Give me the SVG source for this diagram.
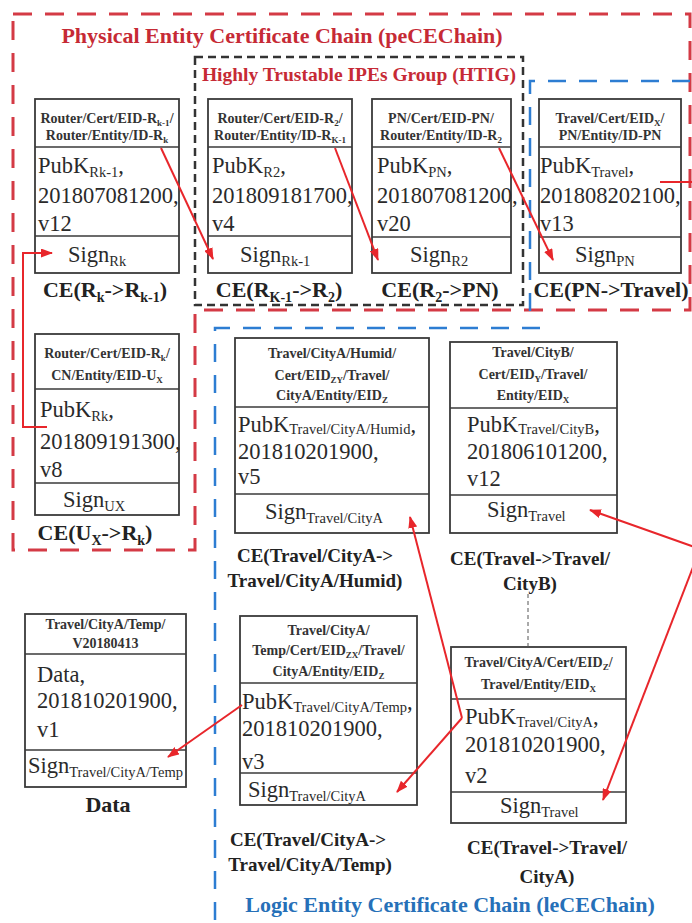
<svg xmlns="http://www.w3.org/2000/svg" width="692" height="923" viewBox="0 0 692 923">
<defs>
<style>
.box{fill:#fff;stroke:#3a3a3a;stroke-width:1.8}
.dv{stroke:#3a3a3a;stroke-width:1.5}
.h{font-family:"Liberation Serif",serif;font-weight:bold;font-size:14px;fill:#333;text-anchor:middle}
.hs{font-size:9px}
.b{font-family:"Liberation Serif",serif;font-size:22.5px;fill:#2a2a2a}
.bs{font-size:14.5px}
.lt{font-family:"Liberation Serif",serif;font-weight:bold;font-size:22px;fill:#222;text-anchor:middle}
.ls{font-size:14px}
.ll{font-family:"Liberation Serif",serif;font-weight:bold;font-size:19px;fill:#222;text-anchor:middle}
.arr{stroke:#e8262b;stroke-width:2;fill:none}
.arrm{marker-end:url(#ah)}
.title{font-family:"Liberation Serif",serif;font-weight:bold}
</style>
<marker id="ah" viewBox="0 0 12 9" refX="11" refY="4.5" markerWidth="12" markerHeight="9" markerUnits="userSpaceOnUse" orient="auto">
<path d="M0,0 L12,4.5 L0,9 z" fill="#e8262b"/>
</marker>
</defs>
<rect width="692" height="923" fill="#fff"/>

<g id="groups">
<path d="M13,14 H690 V310 H195 V550 H13 Z" fill="none" stroke="#d43a45" stroke-width="3" stroke-dasharray="19 13"/>
<rect x="195" y="57" width="328" height="248" fill="none" stroke="#333" stroke-width="2.5" stroke-dasharray="8 5"/>
<path d="M690,81 H530 V318" fill="none" stroke="#2d7dd2" stroke-width="2.5" stroke-dasharray="18 13"/>
<path d="M540,328 H215 V923" fill="none" stroke="#2d7dd2" stroke-width="2.5" stroke-dasharray="18 13"/>
<text class="title" x="282" y="43" font-size="22" fill="#c62a35" text-anchor="middle">Physical Entity Certificate Chain (peCEChain)</text>
<text class="title" x="359" y="81" font-size="19.5" fill="#c62a35" text-anchor="middle">Highly Trustable IPEs Group (HTIG)</text>
<text class="title" x="450" y="912" font-size="22" fill="#2670b8" text-anchor="middle">Logic Entity Certificate Chain (leCEChain)</text>
</g>

<g id="n1">
<rect class="box" x="35" y="99" width="144" height="174"/>
<line class="dv" x1="35" y1="147" x2="179" y2="147"/>
<line class="dv" x1="35" y1="236" x2="179" y2="236"/>
<text class="h" x="107" y="123">Router/Cert/EID-R<tspan class="hs" dy="3">k-1</tspan><tspan dy="-3">/</tspan></text>
<text class="h" x="107" y="140">Router/Entity/ID-R<tspan class="hs" dy="3">k</tspan></text>
<text class="b" x="38" y="173">PubK<tspan class="bs" dy="4">Rk-1</tspan><tspan dy="-4">,</tspan></text>
<text class="b" x="38" y="203">201807081200,</text>
<text class="b" x="38" y="231">v12</text>
<text class="b" x="68" y="262">Sign<tspan class="bs" dy="4">Rk</tspan></text>
<text class="lt" x="105" y="297">CE(R<tspan class="ls" dy="5">k</tspan><tspan dy="-5">-&gt;R</tspan><tspan class="ls" dy="5">k-1</tspan><tspan dy="-5">)</tspan></text>
</g>

<g id="n2">
<rect class="box" x="208" y="99" width="144" height="174"/>
<line class="dv" x1="208" y1="147" x2="352" y2="147"/>
<line class="dv" x1="208" y1="236" x2="352" y2="236"/>
<text class="h" x="280" y="123">Router/Cert/EID-R<tspan class="hs" dy="3">2</tspan><tspan dy="-3">/</tspan></text>
<text class="h" x="280" y="140">Router/Entity/ID-R<tspan class="hs" dy="3">K-1</tspan></text>
<text class="b" x="212" y="173">PubK<tspan class="bs" dy="4">R2</tspan><tspan dy="-4">,</tspan></text>
<text class="b" x="212" y="203">201809181700,</text>
<text class="b" x="212" y="231">v4</text>
<text class="b" x="240" y="262">Sign<tspan class="bs" dy="4">Rk-1</tspan></text>
<text class="lt" x="279" y="297">CE(R<tspan class="ls" dy="5">K-1</tspan><tspan dy="-5">-&gt;R</tspan><tspan class="ls" dy="5">2</tspan><tspan dy="-5">)</tspan></text>
</g>

<g id="n3">
<rect class="box" x="372" y="99" width="139" height="174"/>
<line class="dv" x1="372" y1="147" x2="511" y2="147"/>
<line class="dv" x1="372" y1="237" x2="511" y2="237"/>
<text class="h" x="441" y="123">PN/Cert/EID-PN/</text>
<text class="h" x="441" y="140">Router/Entity/ID-R<tspan class="hs" dy="3">2</tspan></text>
<text class="b" x="377" y="173">PubK<tspan class="bs" dy="4">PN</tspan><tspan dy="-4">,</tspan></text>
<text class="b" x="377" y="203">201807081200,</text>
<text class="b" x="377" y="231">v20</text>
<text class="b" x="410" y="262">Sign<tspan class="bs" dy="4">R2</tspan></text>
<text class="lt" x="440" y="297">CE(R<tspan class="ls" dy="5">2</tspan><tspan dy="-5">-&gt;PN)</tspan></text>
</g>

<g id="n4">
<rect class="box" x="539" y="99" width="142" height="174"/>
<line class="dv" x1="539" y1="147" x2="681" y2="147"/>
<line class="dv" x1="539" y1="237" x2="681" y2="237"/>
<text class="h" x="610" y="123">Travel/Cert/EID<tspan class="hs" dy="3">X</tspan><tspan dy="-3">/</tspan></text>
<text class="h" x="610" y="140">PN/Entity/ID-PN</text>
<text class="b" x="540" y="173">PubK<tspan class="bs" dy="4">Travel</tspan><tspan dy="-4">,</tspan></text>
<text class="b" x="540" y="203">201808202100,</text>
<text class="b" x="540" y="231">v13</text>
<text class="b" x="575" y="262">Sign<tspan class="bs" dy="4">PN</tspan></text>
<text class="lt" x="611" y="297">CE(PN-&gt;Travel)</text>
</g>

<g id="n5">
<rect class="box" x="35" y="334" width="144" height="181"/>
<line class="dv" x1="35" y1="389" x2="179" y2="389"/>
<line class="dv" x1="35" y1="483" x2="179" y2="483"/>
<text class="h" x="107" y="358">Router/Cert/EID-R<tspan class="hs" dy="3">k</tspan><tspan dy="-3">/</tspan></text>
<text class="h" x="107" y="380">CN/Entity/EID-U<tspan class="hs" dy="3">X</tspan></text>
<text class="b" x="40" y="417">PubK<tspan class="bs" dy="4">Rk</tspan><tspan dy="-4">,</tspan></text>
<text class="b" x="40" y="449">201809191300,</text>
<text class="b" x="40" y="477">v8</text>
<text class="b" x="63" y="507">Sign<tspan class="bs" dy="4">UX</tspan></text>
<text class="lt" x="95" y="540">CE(U<tspan class="ls" dy="5">X</tspan><tspan dy="-5">-&gt;R</tspan><tspan class="ls" dy="5">k</tspan><tspan dy="-5">)</tspan></text>
</g>

<g id="n6">
<rect class="box" x="235" y="338" width="194" height="195"/>
<line class="dv" x1="235" y1="407" x2="429" y2="407"/>
<line class="dv" x1="235" y1="494" x2="429" y2="494"/>
<text class="h" x="332" y="358">Travel/CityA/Humid/</text>
<text class="h" x="332" y="380">Cert/EID<tspan class="hs" dy="3">ZY</tspan><tspan dy="-3">/Travel/</tspan></text>
<text class="h" x="332" y="400">CityA/Entity/EID<tspan class="hs" dy="3">Z</tspan></text>
<text class="b" x="238" y="432">PubK<tspan class="bs" dy="2">Travel/CityA/Humid</tspan><tspan dy="-2">,</tspan></text>
<text class="b" x="238" y="459">201810201900,</text>
<text class="b" x="238" y="484">v5</text>
<text class="b" x="265" y="519">Sign<tspan class="bs" dy="4">Travel/CityA</tspan></text>
<text class="ll" x="315" y="562">CE(Travel/CityA-&gt;</text>
<text class="ll" x="315" y="587">Travel/CityA/Humid)</text>
</g>

<g id="n7">
<rect class="box" x="450" y="342" width="167" height="191"/>
<line class="dv" x1="450" y1="408" x2="617" y2="408"/>
<line class="dv" x1="450" y1="495" x2="617" y2="495"/>
<text class="h" x="533" y="357">Travel/CityB/</text>
<text class="h" x="533" y="379">Cert/EID<tspan class="hs" dy="3">Y</tspan><tspan dy="-3">/Travel/</tspan></text>
<text class="h" x="533" y="400">Entity/EID<tspan class="hs" dy="3">X</tspan></text>
<text class="b" x="467" y="432">PubK<tspan class="bs" dy="2">Travel/CityB</tspan><tspan dy="-2">,</tspan></text>
<text class="b" x="467" y="459">201806101200,</text>
<text class="b" x="467" y="486">v12</text>
<text class="b" x="487" y="517">Sign<tspan class="bs" dy="4">Travel</tspan></text>
<text class="ll" x="530" y="565">CE(Travel-&gt;Travel/</text>
<text class="ll" x="530" y="590">CityB)</text>
</g>

<g id="n8">
<rect class="box" x="25" y="614" width="161" height="173"/>
<line class="dv" x1="25" y1="654" x2="186" y2="654"/>
<line class="dv" x1="25" y1="750" x2="186" y2="750"/>
<text class="h" x="105.5" y="629">Travel/CityA/Temp/</text>
<text class="h" x="105.5" y="648">V20180413</text>
<text class="b" x="37" y="682">Data,</text>
<text class="b" x="37" y="708">201810201900,</text>
<text class="b" x="37" y="737">v1</text>
<text class="b" x="28" y="773">Sign<tspan class="bs" dy="4">Travel/CityA/Temp</tspan></text>
<text class="lt" x="108" y="812">Data</text>
</g>

<g id="n9">
<rect class="box" x="240" y="616" width="177" height="189"/>
<line class="dv" x1="240" y1="683" x2="417" y2="683"/>
<line class="dv" x1="240" y1="773" x2="417" y2="773"/>
<text class="h" x="328.5" y="635">Travel/CityA/</text>
<text class="h" x="328.5" y="655">Temp/Cert/EID<tspan class="hs" dy="3">ZX</tspan><tspan dy="-3">/Travel/</tspan></text>
<text class="h" x="328.5" y="676">CityA/Entity/EID<tspan class="hs" dy="3">Z</tspan></text>
<text class="b" x="242" y="709">PubK<tspan class="bs" dy="3">Travel/CityA/Temp</tspan><tspan dy="-3">,</tspan></text>
<text class="b" x="242" y="736">201810201900,</text>
<text class="b" x="242" y="769">v3</text>
<text class="b" x="248" y="797">Sign<tspan class="bs" dy="4">Travel/CityA</tspan></text>
<text class="ll" x="308" y="846">CE(Travel/CityA-&gt;</text>
<text class="ll" x="310" y="871">Travel/CityA/Temp)</text>
</g>

<g id="n10">
<rect class="box" x="451" y="647" width="175" height="176"/>
<line class="dv" x1="451" y1="699" x2="626" y2="699"/>
<line class="dv" x1="451" y1="792" x2="626" y2="792"/>
<text class="h" x="538.5" y="667">Travel/CityA/Cert/EID<tspan class="hs" dy="3">Z</tspan><tspan dy="-3">/</tspan></text>
<text class="h" x="538.5" y="689">Travel/Entity/EID<tspan class="hs" dy="3">X</tspan></text>
<text class="b" x="465" y="724">PubK<tspan class="bs" dy="3">Travel/CityA</tspan><tspan dy="-3">,</tspan></text>
<text class="b" x="465" y="752">201810201900,</text>
<text class="b" x="465" y="783">v2</text>
<text class="b" x="500" y="813">Sign<tspan class="bs" dy="4">Travel</tspan></text>
<text class="ll" x="547" y="854">CE(Travel-&gt;Travel/</text>
<text class="ll" x="547" y="883">CityA)</text>
</g>

<g id="connectors">
<path class="arr arrm" d="M161,148 L213,259"/>
<path class="arr arrm" d="M335,148 L378,260"/>
<path class="arr arrm" d="M499,148 L553,260"/>
<path class="arr arrm" d="M47,427 H23 V253 H52"/>
<path class="arr arrm" d="M660,182 H700 V549 L590,510"/>
<path class="arr arrm" d="M700,549 L603,800"/>
<path class="arr arrm" d="M462,718 L410,517"/>
<path class="arr arrm" d="M462,718 L397,792"/>
<path class="arr arrm" d="M242,705 L168,757"/>
<line x1="528" y1="594" x2="528" y2="647" stroke="#555" stroke-width="1" stroke-dasharray="4 3"/>
</g>
</svg>
